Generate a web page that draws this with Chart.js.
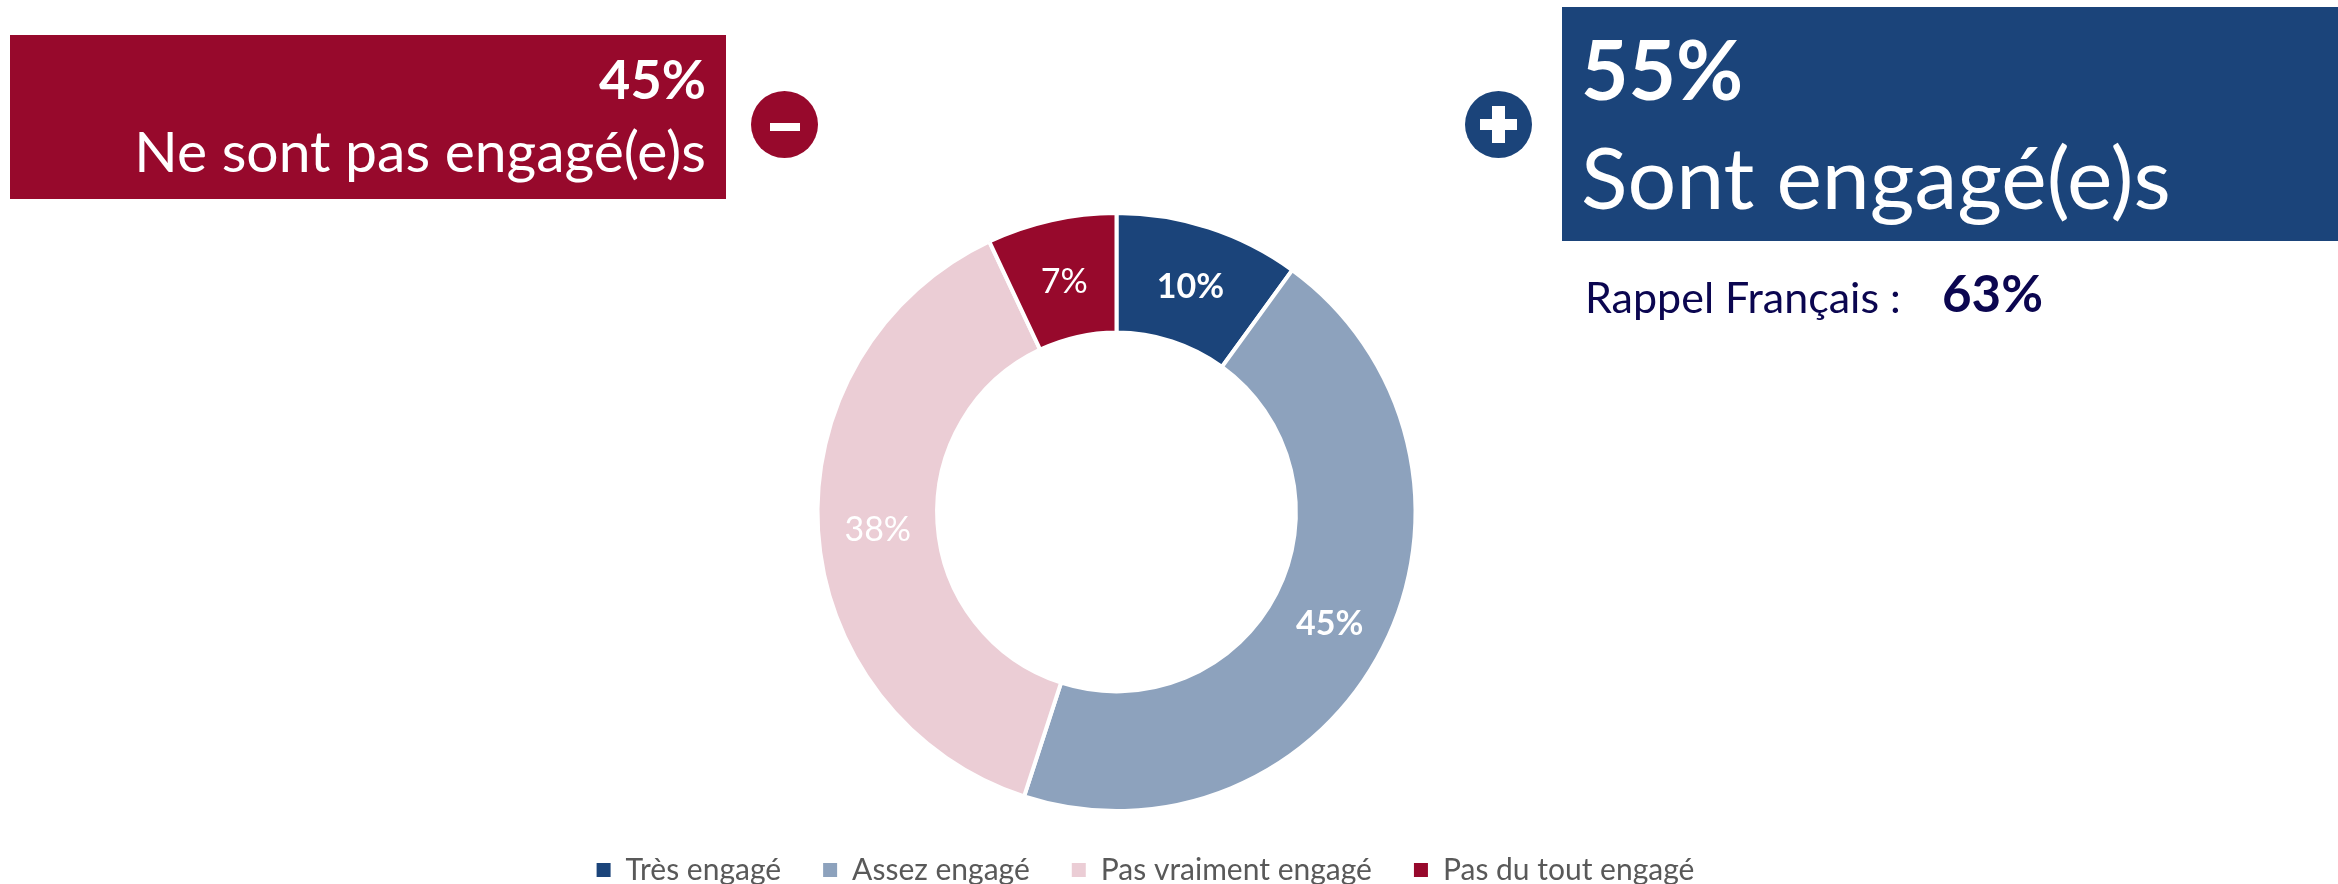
<!DOCTYPE html>
<html lang="fr">
<head>
<meta charset="utf-8">
<title>Engagement</title>
<script src="https://cdn.jsdelivr.net/npm/chart.js@4"></script>
<style>
  html, body { margin: 0; padding: 0; background: #fff; }
  body { position: relative; width: 2338px; height: 884px; overflow: hidden; font-family: Lato, sans-serif; }
  canvas { position: absolute; left: 0; top: 0; }
  .box { position: absolute; }
  .txt { position: absolute; white-space: nowrap; line-height: 1; color: #fff; }
  .red { background: #97092c; }
  .navy { background: #1b447a; }
  .round { position: absolute; width: 67px; height: 67px; border-radius: 50%; top: 91px; }
  .bar { position: absolute; background: #fff; }
</style>
</head>
<body>
<canvas id="chart" width="2338" height="884"></canvas>

<div class="box red" style="left:10px;top:35px;width:716px;height:164px"></div>
<div class="txt" style="right:1632px;top:52px;font-size:54px;font-weight:700">45%</div>
<div class="txt" style="right:1632px;top:122px;font-size:57px">Ne sont pas engagé(e)s</div>
<div class="round red" style="left:751px"></div>
<div class="bar" style="left:770px;top:123px;width:30px;height:8px"></div>

<div class="round navy" style="left:1465px"></div>
<div class="bar" style="left:1480px;top:119px;width:37px;height:11px"></div>
<div class="bar" style="left:1492px;top:106px;width:13px;height:37px"></div>
<div class="box navy" style="left:1562px;top:7px;width:776px;height:234px"></div>
<div class="txt" style="left:1581px;top:27px;font-size:82px;font-weight:700">55%</div>
<div class="txt" style="left:1581px;top:133px;font-size:86px">Sont engagé(e)s</div>
<div class="txt" style="left:1585px;top:275px;font-size:43px;color:#0b0650">Rappel Français :</div>
<div class="txt" style="left:1942px;top:267px;font-size:51px;font-weight:700;color:#0b0650">63%</div>

<script>
const categories = ['Très engagé', 'Assez engagé', 'Pas vraiment engagé', 'Pas du tout engagé'];
const values = [10, 45, 38, 7];
const colors = ['#1b447a', '#8da2bd', '#ebcdd5', '#97092c'];
const boldLabels = [true, true, false, false];

// Value labels in the middle of each ring slice
const sliceLabels = {
  id: 'sliceLabels',
  afterDatasetsDraw(chart) {
    const ctx = chart.ctx;
    ctx.save();
    ctx.textAlign = 'center';
    ctx.textBaseline = 'middle';
    ctx.fillStyle = '#fff';
    chart.getDatasetMeta(0).data.forEach((arc, i) => {
      const p = arc.tooltipPosition();
      ctx.font = (boldLabels[i] ? '700 ' : '400 ') + '34px Lato';
      ctx.fillText(values[i] + '%', p.x, p.y + 3);
    });
    ctx.restore();
  }
};

// The legend is not centred under the ring in the original
const shiftLegend = {
  id: 'shiftLegend',
  afterLayout(chart) {
    chart.legend.left += 29;
    chart.legend.right += 29;
    chart.legend.top -= 0;
    chart.legend.bottom -= 0;
  }
};

new Chart(document.getElementById('chart'), {
  type: 'doughnut',
  data: {
    labels: categories,
    datasets: [{
      data: values,
      backgroundColor: colors,
      borderColor: '#fff',
      borderWidth: 4,
      hoverOffset: 0
    }]
  },
  options: {
    responsive: false,
    devicePixelRatio: 1,
    animation: false,
    cutout: '60%',
    layout: { padding: { top: 211, left: 0, right: 105, bottom: 0 } },
    plugins: {
      tooltip: { enabled: false },
      legend: {
        position: 'bottom',
        maxHeight: 71,
        labels: {
          boxWidth: 14,
          boxHeight: 14,
          padding: 42,
          color: '#595959',
          font: { family: 'Lato', size: 30 },
          // the ring's white border should not eat into the legend squares
          generateLabels(chart) {
            const items = Chart.overrides.doughnut.plugins.legend.labels.generateLabels(chart);
            return items.map((item) => ({ ...item, lineWidth: 0 }));
          }
        }
      }
    }
  },
  plugins: [sliceLabels, shiftLegend]
});
</script>
</body>
</html>
